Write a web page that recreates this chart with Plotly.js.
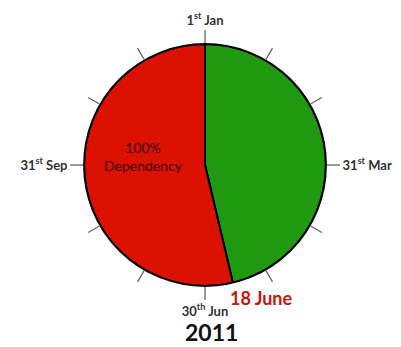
<!DOCTYPE html>
<html><head><meta charset="utf-8">
<script src="https://cdn.plot.ly/plotly-3.0.1.min.js"></script>
<style>html,body{margin:0;padding:0;background:#fff}</style>
</head><body><div id="chart" style="width:401px;height:347px"></div>
<script>
// Data
const periods = ["1 Jan – 18 June", "18 June – 31 Dec"];
const days = [169, 196];
const colors = ["#1f9a10", "#dd1100"];
const monthTicks = [0,1,2,3,4,5,6,7,8,9,10,11];
const tickLabels = ["1<sup>st</sup> Jan","","","31<sup>st</sup> Mar","","","30<sup>th</sup> Jun","","","31<sup>st</sup> Sep","",""];
const year = "2011";
const markerLabel = "18 June";
const sliceLabel = "100%<br>Dependency";

const total = days.reduce((a,b)=>a+b,0);
let cum = 0;
const thetas = [], widths = [];
days.forEach(d => {
  const w = d/total*360;
  thetas.push(cum + w/2);
  widths.push(w);
  cum += w;
});

const trace = {
  type: "barpolar",
  r: days.map(()=>1),
  theta: thetas,
  width: widths,
  text: periods,
  marker: {color: colors, line: {color: "#000", width: 2}},
  hoverinfo: "text"
};

const layout = {
  width: 401, height: 347,
  margin: {l:0, r:0, t:0, b:0},
  paper_bgcolor: "#fff",
  showlegend: false,
  font: {family: "Lato, 'DejaVu Sans', sans-serif", color: "#222"},
  polar: {
    domain: {x: [0.2095, 0.813], y: [0.176, 0.873]},
    bgcolor: "rgba(0,0,0,0)",
    bargap: 0,
    radialaxis: {visible: false, range: [0, 1]},
    angularaxis: {
      rotation: 90, direction: "clockwise",
      tickmode: "array",
      tickvals: monthTicks.map(m => m*30),
      ticktext: tickLabels,
      ticks: "outside", ticklen: 13, tickwidth: 1.3, tickcolor: "#666",
      showgrid: false,
      showline: true, linecolor: "#000", linewidth: 2,
      tickfont: {size: 13, color: "#333", weight: "bold"}
    }
  },
  annotations: [
    {text: sliceLabel, x: 143/401, y: 1-156/347, xref: "paper", yref: "paper",
     xanchor: "center", yanchor: "middle",
     showarrow: false, font: {size: 14, color: "#3a0000"}, align: "center"},
    {text: "<b>" + markerLabel + "</b>", x: 261/401, y: 1-298/347, xref: "paper", yref: "paper",
     xanchor: "center", yanchor: "middle",
     showarrow: false, font: {size: 18, color: "#c8140a"}},
    {text: "<b>" + year + "</b>", x: 211/401, y: 0, xref: "paper", yref: "paper",
     xanchor: "center", yanchor: "bottom", borderpad: 0,
     showarrow: false, font: {size: 23, color: "#111"}}
  ]
};

Plotly.newPlot("chart", [trace], layout, {displayModeBar: false, staticPlot: true});
</script></body></html>
